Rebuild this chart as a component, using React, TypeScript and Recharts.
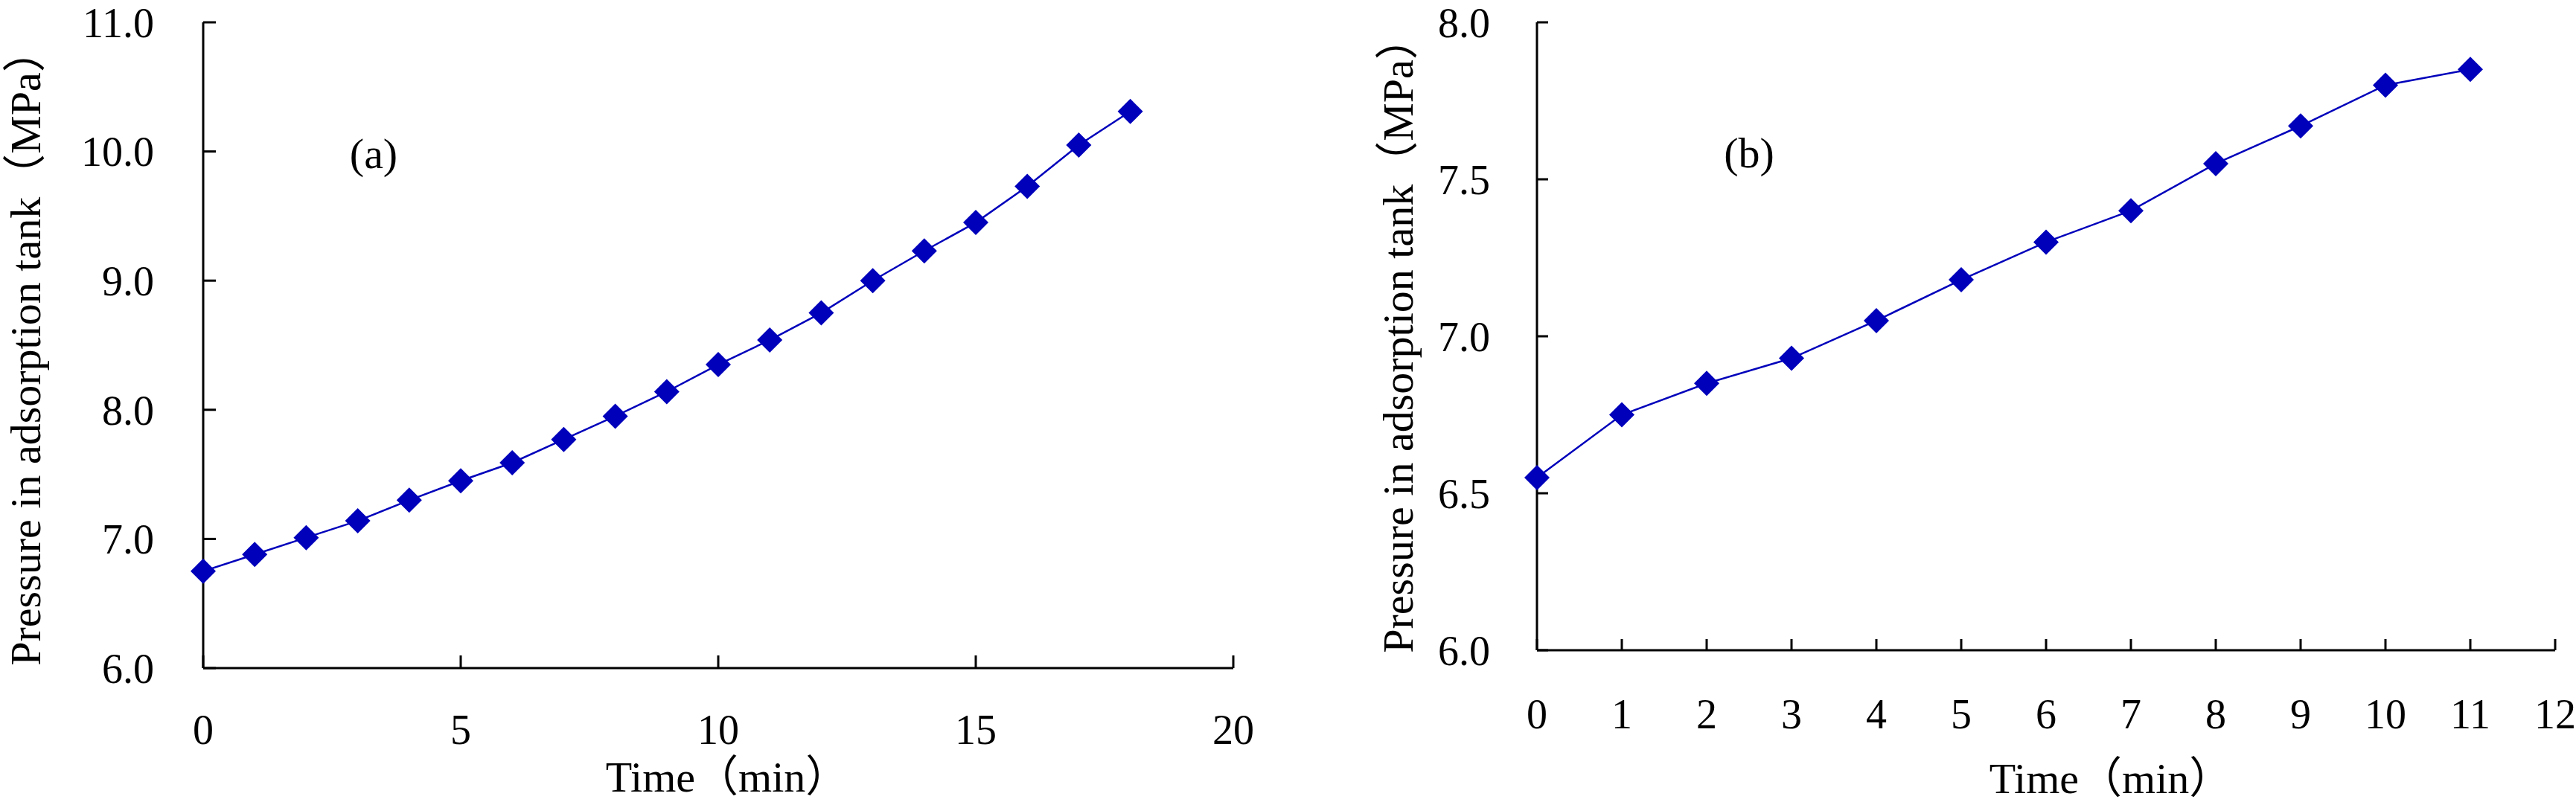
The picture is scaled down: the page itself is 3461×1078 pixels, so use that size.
import { LineChart, Line, XAxis, YAxis, Label } from "recharts";

const timeA = [0, 1, 2, 3, 4, 5, 6, 7, 8, 9, 10, 11, 12, 13, 14, 15, 16, 17, 18];
const pressureA = [6.75, 6.88, 7.01, 7.14, 7.3, 7.45, 7.59, 7.77, 7.95, 8.14, 8.35, 8.54, 8.75, 9.0, 9.23, 9.45, 9.73, 10.05, 10.31];
const ticksXA = [0, 5, 10, 15, 20];
const ticksYA = [6, 7, 8, 9, 10, 11];

const timeB = [0, 1, 2, 3, 4, 5, 6, 7, 8, 9, 10, 11];
const pressureB = [6.55, 6.75, 6.85, 6.93, 7.05, 7.18, 7.3, 7.4, 7.55, 7.67, 7.8, 7.85];
const ticksXB = [0, 1, 2, 3, 4, 5, 6, 7, 8, 9, 10, 11, 12];
const ticksYB = [6, 6.5, 7, 7.5, 8];

const xTitle = "Time（min）";
const yTitle = "Pressure in adsorption tank（MPa）";

const FONT = '"Liberation Serif", "Times New Roman", "Noto Sans CJK SC", serif';
const BLUE = "#0000BB";
const TICK_FS = 56;
const TITLE_FS = 58;

const tickStyle = { fontSize: TICK_FS, fill: "#000", fontFamily: FONT };

const Diamond = (props: any) => {
  const { cx, cy } = props;
  if (cx == null || cy == null) return null;
  const r = 17;
  return <polygon points={`${cx},${cy - r} ${cx + r},${cy} ${cx},${cy + r} ${cx - r},${cy}`} fill={BLUE} />;
};

const Txt = ({ x, y, text, rotate }: { x: number; y: number; text: string; rotate?: boolean }) => (
  <text
    x={x}
    y={y}
    textAnchor="middle"
    fontSize={TITLE_FS}
    fontFamily={FONT}
    fill="#000"
    transform={rotate ? `rotate(-90, ${x}, ${y})` : undefined}
  >
    {text}
  </text>
);

type PanelProps = {
  left: number;
  width: number;
  margin: { top: number; right: number; bottom: number; left: number };
  xHeight: number;
  times: number[];
  values: number[];
  xDomain: [number, number];
  yDomain: [number, number];
  xTicks: number[];
  yTicks: number[];
  tick: number;
  xMargin: number;
  yMargin: number;
  tag: string;
  tagPos: [number, number];
  xTitlePos: [number, number];
  yTitlePos: [number, number];
};

const Panel = (p: PanelProps) => {
  const data = p.times.map((t, i) => ({ t, v: p.values[i] }));
  return (
    <div style={{ position: "absolute", left: p.left, top: 0, width: p.width, height: 1078 }}>
      <LineChart width={p.width} height={1078} data={data} margin={p.margin}>
        <XAxis
          dataKey="t"
          type="number"
          domain={p.xDomain}
          ticks={p.xTicks}
          interval={0}
          height={p.xHeight}
          tickSize={-p.tick}
          tickMargin={p.xMargin}
          tick={tickStyle}
          axisLine={{ stroke: "#000", strokeWidth: 3 }}
          tickLine={{ stroke: "#000", strokeWidth: 3 }}
        >
          <Label content={() => <Txt x={p.xTitlePos[0]} y={p.xTitlePos[1]} text={xTitle} />} />
        </XAxis>
        <YAxis
          type="number"
          domain={p.yDomain}
          ticks={p.yTicks}
          interval={0}
          width={100}
          tickSize={-p.tick}
          tickMargin={p.yMargin}
          tick={tickStyle}
          tickFormatter={(v: number) => v.toFixed(1)}
          axisLine={{ stroke: "#000", strokeWidth: 3 }}
          tickLine={{ stroke: "#000", strokeWidth: 3 }}
        >
          <Label
            content={() => (
              <g>
                <Txt x={p.yTitlePos[0]} y={p.yTitlePos[1]} text={yTitle} rotate />
                <Txt x={p.tagPos[0]} y={p.tagPos[1]} text={p.tag} />
              </g>
            )}
          />
        </YAxis>
        <Line
          dataKey="v"
          stroke={BLUE}
          strokeWidth={2.5}
          dot={<Diamond />}
          activeDot={false}
          isAnimationActive={false}
        />
      </LineChart>
    </div>
  );
}

export default function App() {
  return (
    <div style={{ position: "absolute", left: 0, top: 0, width: 3461, height: 1078, background: "#fff" }}>
      <Panel
        left={0}
        width={1750}
        margin={{ top: 30, right: 93, bottom: 0, left: 173 }}
        xHeight={180}
        times={timeA}
        values={pressureA}
        xDomain={[0, 20]}
        yDomain={[6, 11]}
        xTicks={ticksXA}
        yTicks={ticksYA}
        tick={17}
        xMargin={79}
        yMargin={83}
        tag="(a)"
        tagPos={[502, 226]}
        xTitlePos={[977, 1064]}
        yTitlePos={[54, 467]}
      />
      <Panel
        left={1750}
        width={1711}
        margin={{ top: 30, right: 28, bottom: 0, left: 215 }}
        xHeight={204}
        times={timeB}
        values={pressureB}
        xDomain={[0, 12]}
        yDomain={[6, 8]}
        xTicks={ticksXB}
        yTicks={ticksYB}
        tick={15}
        xMargin={80}
        yMargin={78}
        tag="(b)"
        tagPos={[600, 225]}
        xTitlePos={[1086, 1066]}
        yTitlePos={[148, 450]}
      />
    </div>
  );
}
